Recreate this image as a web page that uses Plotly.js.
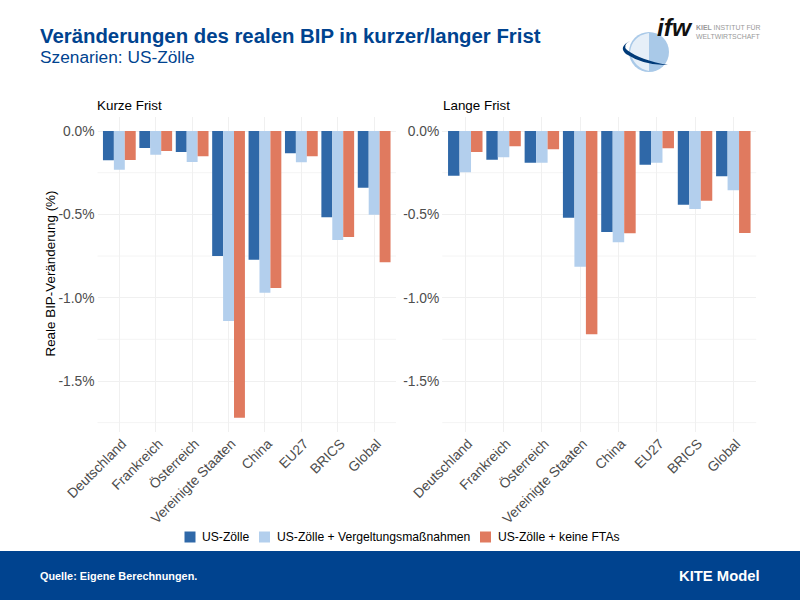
<!DOCTYPE html>
<html><head><meta charset="utf-8">
<script src="https://cdn.plot.ly/plotly-3.0.1.min.js"></script>
<style>html,body{margin:0;padding:0;background:#fff}</style></head>
<body><div id="chart" style="width:800px;height:600px"></div>
<script>
const categories = ["Deutschland","Frankreich","Österreich","Vereinigte Staaten","China","EU27","BRICS","Global"];
const seriesNames = ["US-Zölle","US-Zölle + Vergeltungsmaßnahmen","US-Zölle + keine FTAs"];
const seriesColors = ["#2f68a8","#b3cfed","#e07a5f"];
const shortTariffs = [-0.176,-0.102,-0.126,-0.75,-0.772,-0.134,-0.518,-0.34];
const shortRetaliation = [-0.232,-0.142,-0.186,-1.14,-0.97,-0.188,-0.654,-0.502];
const shortNoFta = [-0.174,-0.12,-0.152,-1.72,-0.942,-0.152,-0.636,-0.788];
const longTariffs = [-0.268,-0.172,-0.19,-0.52,-0.606,-0.202,-0.442,-0.272];
const longRetaliation = [-0.248,-0.158,-0.19,-0.814,-0.668,-0.19,-0.468,-0.356];
const longNoFta = [-0.126,-0.092,-0.11,-1.22,-0.614,-0.104,-0.418,-0.612];
const yTickVals = [0,-0.5,-1,-1.5];
const yTickText = ["0.0%","-0.5%","-1.0%","-1.5%"];
const yMinorGrid = [-0.25,-0.75,-1.25,-1.75];

const W=800,H=600;
const px=x=>x/W, py=y=>1-y/H;
const FONT="Liberation Sans, Arial, sans-serif";
const NAVY="#00438f";
const mk=(y,i,ax)=>({type:"bar",x:categories,y:y,name:seriesNames[i],xaxis:"x"+ax,yaxis:"y"+ax,
  marker:{color:seriesColors[i],line:{width:0}},showlegend:false});
const data=[
  mk(shortTariffs,0,""),mk(shortRetaliation,1,""),mk(shortNoFta,2,""),
  mk(longTariffs,0,"2"),mk(longRetaliation,1,"2"),mk(longNoFta,2,"2")
];
const yRange=[-1.806,0.086];
const xax=(d)=>({domain:d,type:"category",range:[-0.6,7.6],tickangle:-45,ticklabelshift:3,tickfont:{family:FONT,size:13.8,color:"#4d4d4d"},
  showgrid:true,gridcolor:"#f0f0f0",gridwidth:1,zeroline:false,showline:false,ticks:"",ticklen:0,automargin:false});
const yax=(d,anchor)=>({domain:d,range:yRange,anchor:anchor,tickvals:yTickVals,ticktext:yTickText,ticklabelstandoff:2,
  tickfont:{family:FONT,size:13.8,color:"#4d4d4d"},showgrid:true,gridcolor:"#f0f0f0",gridwidth:1,zeroline:false,showline:false,ticks:"",automargin:false});
const dom=[py(432),py(116.7)];
const ann=(text,x,y,size,color,anchor,family)=>({text,xref:"paper",yref:"paper",x:px(x),y:py(y),xanchor:anchor||"left",yanchor:"middle",showarrow:false,
  font:{family:family||FONT,size,color},borderpad:0,borderwidth:0});
const legendX=[184.5,259,480];
const layout={
  width:W,height:H,margin:{l:0,r:0,t:0,b:0},paper_bgcolor:"#fff",plot_bgcolor:"rgba(0,0,0,0)",
  barmode:"group",bargap:0.1,bargroupgap:0,showlegend:false,
  font:{family:FONT},
  xaxis:xax([px(97.5),px(396)]),
  xaxis2:xax([px(442.3),px(756.3)]),
  yaxis:yax(dom,"x"),
  yaxis2:yax(dom,"x2"),
  shapes:[
    {type:"rect",xref:"paper",yref:"paper",x0:0,x1:1,y0:0,y1:py(551),fillcolor:NAVY,line:{width:0},layer:"below"},
    ...yMinorGrid.flatMap(v=>[
      {type:"line",xref:"paper",yref:"y",x0:px(97.5),x1:px(396),y0:v,y1:v,line:{color:"#f4f4f4",width:1},layer:"below"},
      {type:"line",xref:"paper",yref:"y2",x0:px(442.3),x1:px(756.3),y0:v,y1:v,line:{color:"#f4f4f4",width:1},layer:"below"}
    ]),
    ...legendX.map((x,i)=>({type:"rect",xref:"paper",yref:"paper",x0:px(x),x1:px(x+11),y0:py(542.5),y1:py(531.5),fillcolor:seriesColors[i],line:{width:0}})),
    // logo globe
    {type:"circle",xref:"paper",yref:"paper",x0:px(629),x1:px(669),y0:py(72),y1:py(32),fillcolor:"#a9c9e8",line:{width:0},layer:"above"},
    {type:"path",xref:"paper",yref:"paper",layer:"above",line:{width:0},fillcolor:"#e6eff8",
      path:`M ${px(649)} ${py(33)} L ${px(649)} ${py(71)} Q ${px(634)} ${py(68)} ${px(630)} ${py(52)} Q ${px(632)} ${py(36)} ${px(649)} ${py(33)} Z`},
    {type:"path",xref:"paper",yref:"paper",layer:"above",line:{width:0},fillcolor:"#003a78",
      path:`M ${px(630)} ${py(41)} Q ${px(618)} ${py(47)} ${px(626)} ${py(54)} Q ${px(645)} ${py(66)} ${px(668)} ${py(65)} Q ${px(640)} ${py(60)} ${px(627)} ${py(50)} Q ${px(622)} ${py(45)} ${px(630)} ${py(41)} Z`}
  ],
  annotations:[
    ann("<b>Veränderungen des realen BIP in kurzer/langer Frist</b>",40,36,20.35,NAVY),
    ann("Szenarien: US-Zölle",40,57,17.3,NAVY),
    ann("Kurze Frist",97,105,13.4,"#000"),
    ann("Lange Frist",442.5,105,13.4,"#000"),
    ann("<b>Quelle: Eigene Berechnungen.</b>",40,576,10.85,"#fff"),
    ann("<b>KITE Model</b>",759.5,576,14.8,"#fff","right"),
    ann("<b><i>ifw</i></b>",657,28,24.5,"#111","left","Liberation Sans, sans-serif"),
    ann("<b>KIEL</b> INSTITUT FÜR",696,28,6.9,"#999"),
    ann("WELTWIRTSCHAFT",696,36,6.9,"#999"),
    Object.assign(ann("Reale BIP-Veränderung (%)",49.5,274,13.4,"#000","center"),{textangle:-90}),
    ...legendX.map((x,i)=>ann(seriesNames[i],x+17.5,537,12.15,"#000"))
  ]
};
Plotly.newPlot("chart",data,layout,{displayModeBar:false,responsive:false});
</script></body></html>
